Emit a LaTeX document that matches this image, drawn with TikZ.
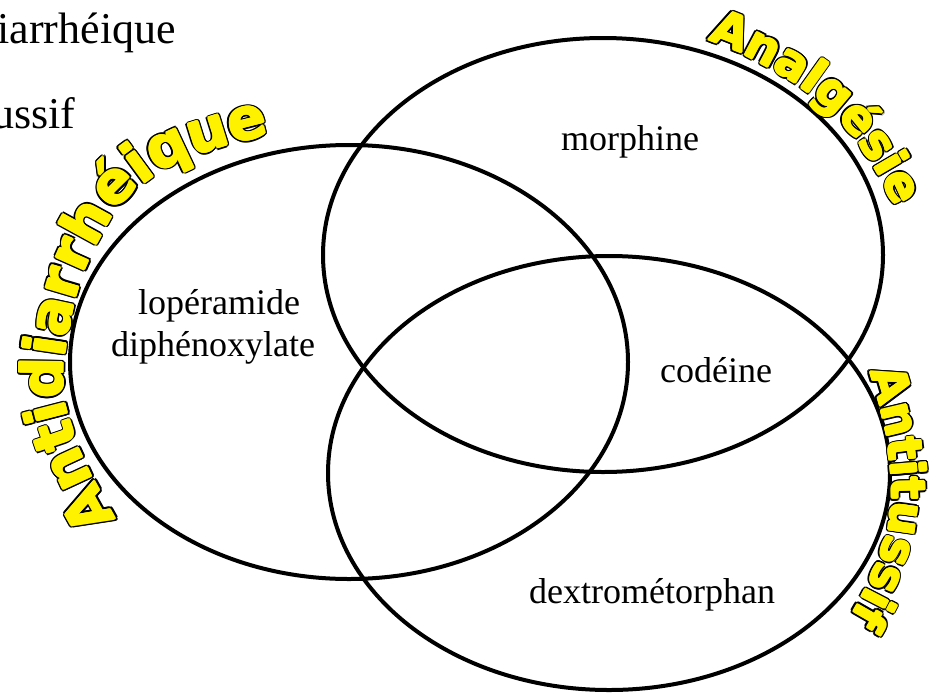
\documentclass[tikz,border=0pt]{standalone}
\usepackage{fontspec}
\setmainfont{Liberation Serif}
\newfontfamily\arcfont{DejaVu Sans}
\usetikzlibrary{decorations.text}

% a set name written along a rim, yellow with a thin black edge
\newcommand\rimtext[3][23.5]{%
  \foreach \a in {0,30,...,330}
    \path[shift = {(\a:1.25pt)}, rimletters = {#1}{#2}{black}] plot[smooth] coordinates {#3};
  \foreach \a in {0,45,...,315}
    \path[shift = {(\a:0.5pt)}, rimletters = {#1}{#2}{yellow}] plot[smooth] coordinates {#3};
  \path[rimletters = {#1}{#2}{yellow}] plot[smooth] coordinates {#3};
}

\tikzset{
  venn/.style = {line width = 2pt},
  drug/.style = {font = \fontsize{18}{22}\selectfont, anchor = base},
  cut/.style = {font = \fontsize{22}{26}\selectfont, anchor = base west, inner sep = 0pt},
  rimletters/.style n args = {3}{decorate, decoration = {text along path,
      text = {|\arcfont\bfseries\fontsize{#1}{#1}\selectfont|#2}, text color = #3}}
}

\begin{document}
\begin{tikzpicture}[x = 0.5pt, y = 0.5pt]
    \useasboundingbox (0,0) rectangle (941,693);

    % the three sets
    \coordinate (diar) at (349,331);
    \coordinate (anal) at (603,438);
    \coordinate (toux) at (609,220);
    \draw[venn] (diar) ellipse (279 and 217);
    \draw[venn] (anal) ellipse (280 and 217);
    \draw[venn] (toux) ellipse (281 and 217);

    % what is left of the legend
    \node[cut] (legdiar) at (-3,650) {iarrhéique};
    \node[cut] (legtoux) at (-8,565) {ussif};

    % members
    \node[drug] (morph) at (630,543) {morphine};
    \node[drug] (code) at (716,311) {codéine};
    \node[drug] (dextro) at (652,90) {dextrométorphan};
    \node[drug] (lope) at (219,379) {lopéramide};
    \node[drug] (diph) at (213,337) {diphénoxylate};

    % set names along the rims
    \rimtext[28.5]{Antidiarrhéique}{(116,174) (84,234) (64,296) (66,348) (83,418) (118,485) (163,523) (205,541) (258,556) (300,563) (350,566) (400,566)}
    \rimtext{Analgésie}{(708,653) (745,638) (790,613) (830,583) (862,545) (888,501) (902,460) (908,420) (906,380)}
    \rimtext{Antitussif}{(870,321) (886,263) (892,203) (888,163) (870,113) (845,68) (815,33) (780,8)}
\end{tikzpicture}
\end{document}
